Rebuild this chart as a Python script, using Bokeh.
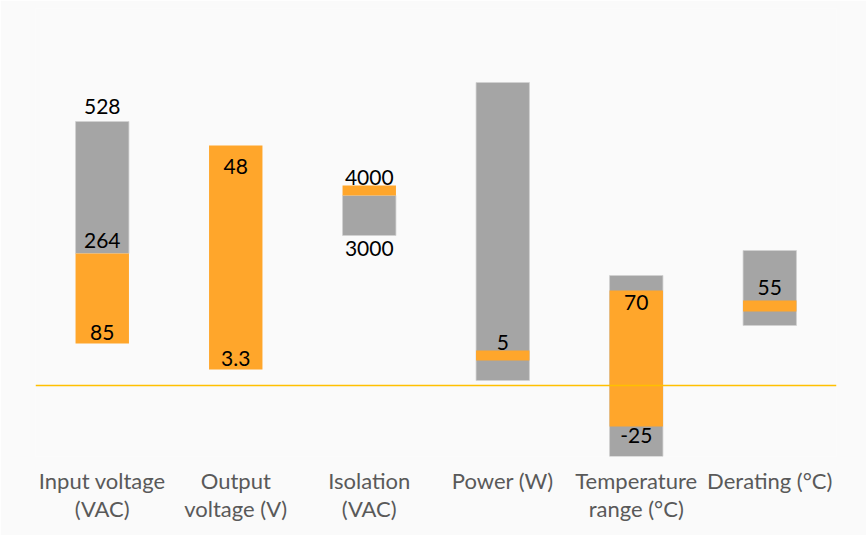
from bokeh.plotting import figure
from bokeh.models import Range1d, FixedTicker, Span, ColumnDataSource
from bokeh.core.properties import value
from bokeh.embed import file_html
from bokeh.resources import INLINE

# ---- data (chart units: height above the zero line) ----
categories = ["Input voltage\n(VAC)", "Output\nvoltage (V)", "Isolation\n(VAC)",
              "Power (W)", "Temperature\nrange (°C)", "Derating (°C)"]
gray_bottom = [132, None, 150, 5, -71, 60]
gray_top = [264, None, 190, 303, 110, 135]
orange_bottom = [42, 16, 190, 25, -41, 74]
orange_top = [132, 240, 200, 35, 95, 85]

# value labels: text, category index, value they annotate
label_text = ["528", "264", "85", "48", "3.3", "4000", "3000", "5", "70", "-25", "55"]
label_cat = [0, 0, 0, 1, 1, 2, 2, 3, 4, 4, 5]
label_anchor = [264, 132, 42, 240, 16, 200, 150, 35, 95, -41, 85]

# ---- layout (pixel offsets of labels from their anchor, + = up) ----
label_shift = [15, 13, 11, -21, 11, 8, -13, 8, -12, -9, 13]

GRAY = "#A5A5A5"
ORANGE = "#FFA62B"
FONT = "Lato"

p = figure(width=866, height=535, output_backend="svg", toolbar_location=None,
           x_range=Range1d(-0.5, 5.5), y_range=Range1d(-71, 377),
           min_border_left=35, min_border_right=30, min_border_top=8,
           min_border_bottom=79)
p.background_fill_color = "#FAFAFA"
p.border_fill_color = "#FAFAFA"
p.outline_line_color = None
p.grid.visible = False
p.yaxis.visible = False

xs = list(range(len(categories)))
g_idx = [i for i in xs if gray_bottom[i] is not None]
p.vbar(x=[xs[i] for i in g_idx], bottom=[gray_bottom[i] for i in g_idx],
       top=[gray_top[i] for i in g_idx], width=0.4,
       fill_color=GRAY, line_color="#D0D0D0", line_width=0.8)
p.vbar(x=xs, bottom=orange_bottom, top=orange_top, width=0.4,
       fill_color=ORANGE, line_color=None)

p.add_layout(Span(location=0, dimension="width", line_color="#FFC000", line_width=1.6))

src = ColumnDataSource(dict(
    x=label_cat,
    y=[a + s for a, s in zip(label_anchor, label_shift)],
    t=label_text))
p.text(x="x", y="y", text="t", source=src, text_align="center",
       text_baseline="middle", text_font=value(FONT), text_font_size="21px",
       text_color="#000000")

ax = p.xaxis[0]
ax.ticker = FixedTicker(ticks=xs)
ax.major_label_overrides = {i: c for i, c in enumerate(categories)}
ax.axis_line_color = None
ax.major_tick_line_color = None
ax.minor_tick_line_color = None
ax.major_label_standoff = 4
ax.major_label_text_font = FONT
ax.major_label_text_font_size = "22px"
ax.major_label_text_line_height = 1.05
ax.major_label_text_color = "#595959"

open("out.html", "w").write(file_html(p, INLINE))
